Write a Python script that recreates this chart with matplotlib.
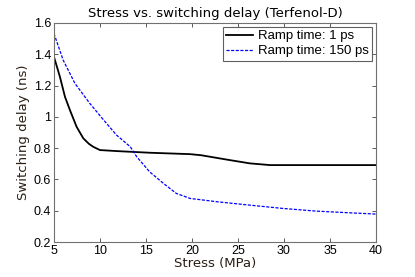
import matplotlib
matplotlib.use("Agg")
import matplotlib.pyplot as plt

# Ramp time 1 ps
stress_fast = [5.0, 5.65, 6.2, 6.74, 7.46, 8.19, 8.8, 9.27, 10.0, 12.0, 15.4, 19.8, 21.0, 22.0, 24.1, 26.3, 28.5, 32.0, 36.0, 40.0]
delay_fast = [1.384, 1.256, 1.128, 1.043, 0.937, 0.863, 0.828, 0.809, 0.788, 0.781, 0.771, 0.762, 0.755, 0.745, 0.724, 0.703, 0.692, 0.692, 0.692, 0.692]

# Ramp time 150 ps
stress_slow = [5.0, 6.0, 7.28, 8.9, 10.4, 11.8, 13.3, 14.0, 15.4, 16.9, 18.3, 19.8, 22.7, 26.3, 29.9, 33.5, 37.2, 40.0]
delay_slow = [1.533, 1.363, 1.214, 1.086, 0.98, 0.884, 0.809, 0.745, 0.649, 0.575, 0.511, 0.479, 0.458, 0.436, 0.415, 0.398, 0.387, 0.379]

x_ticks = [5, 10, 15, 20, 25, 30, 35, 40]
y_ticks = [0.2, 0.4, 0.6, 0.8, 1.0, 1.2, 1.4, 1.6]
y_labels = ["0.2", "0.4", "0.6", "0.8", "1", "1.2", "1.4", "1.6"]

fig = plt.figure(figsize=(4.15, 2.77), dpi=100)
ax = fig.add_axes([0.130, 0.126, 0.776, 0.791])

ax.plot(stress_fast, delay_fast, color="black", lw=1.3, label="Ramp time: 1 ps")
ax.plot(stress_slow, delay_slow, color="blue", lw=0.9, ls=(0, (2.5, 1.2)), label="Ramp time: 150 ps")

ax.set_xlim(5, 40)
ax.set_ylim(0.2, 1.6)
ax.set_xticks(x_ticks)
ax.set_yticks(y_ticks)
ax.set_yticklabels(y_labels)
ax.tick_params(direction="in", top=True, right=True, length=3, width=0.6,
               labelsize=9, colors="#404040", labelcolor="black", pad=2)
for lbl in ax.get_xticklabels() + ax.get_yticklabels():
    lbl.set_family("Liberation Sans")
for spine in ax.spines.values():
    spine.set_color("#707070")
    spine.set_linewidth(0.8)

ax.set_xlabel("Stress (MPa)", fontsize=9.5, family="DejaVu Sans", color="#2a1f14", labelpad=0)
ax.set_ylabel("Switching delay (ns)", fontsize=9.5, family="DejaVu Sans", color="#2a1f14", labelpad=3)
ax.set_title("Stress vs. switching delay (Terfenol-D)", fontsize=9.5, family="DejaVu Sans", pad=4)

leg = ax.legend(loc="upper right", prop={"family": "Liberation Sans", "size": 9.5},
                fancybox=False, edgecolor="#606060", framealpha=1,
                handlelength=2.0, handletextpad=0.4, borderpad=0.25,
                labelspacing=0.2, borderaxespad=0.3)
leg.get_frame().set_linewidth(0.8)

fig.savefig("out.png", dpi=100)
plt.close(fig)
